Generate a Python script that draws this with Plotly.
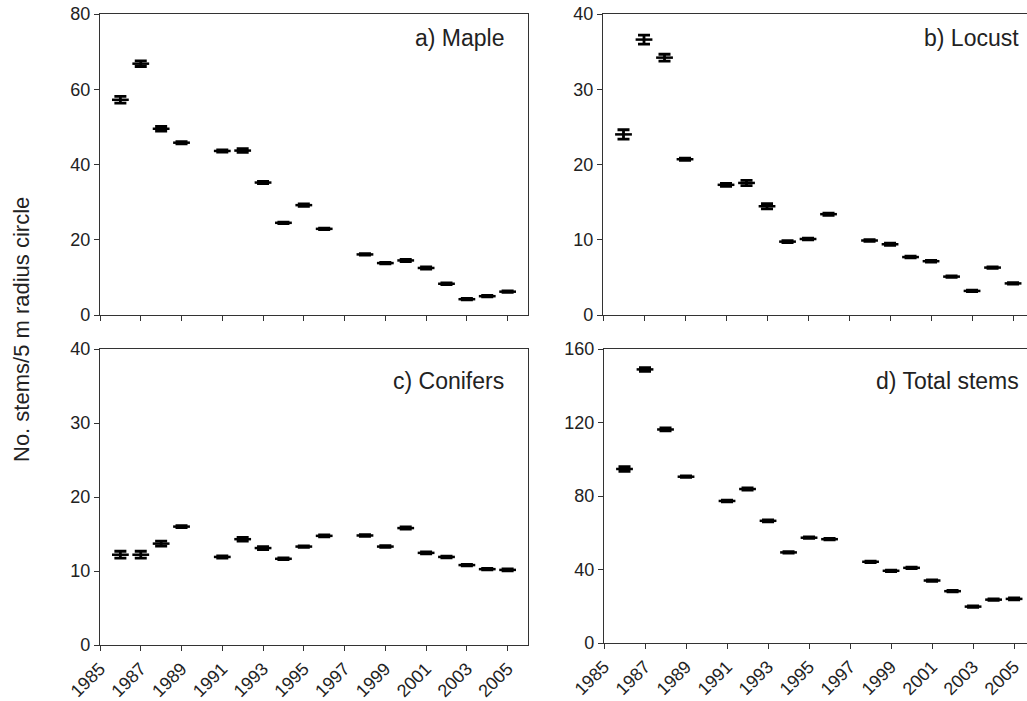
import plotly.graph_objects as go

# Survey years (1990 and 1997 were not sampled)
years = [1986, 1987, 1988, 1989, 1991, 1992, 1993, 1994, 1995, 1996,
         1998, 1999, 2000, 2001, 2002, 2003, 2004, 2005]

# Mean stems per 5 m radius circle and standard errors
maple = [57.2, 66.8, 49.5, 45.8, 43.6, 43.7, 35.2, 24.5, 29.2, 22.9,
         16.1, 13.8, 14.5, 12.5, 8.3, 4.2, 5.0, 6.2]
maple_se = [0.9, 0.75, 0.6, 0.3, 0.3, 0.5, 0.3, 0.2, 0.3, 0.2,
            0.2, 0.2, 0.3, 0.3, 0.2, 0.2, 0.2, 0.2]

locust = [24.0, 36.6, 34.2, 20.7, 17.3, 17.55, 14.45, 9.75, 10.1, 13.4,
          9.9, 9.4, 7.7, 7.15, 5.1, 3.2, 6.3, 4.2]
locust_se = [0.62, 0.6, 0.45, 0.15, 0.2, 0.35, 0.35, 0.12, 0.1, 0.15,
             0.12, 0.15, 0.12, 0.12, 0.1, 0.1, 0.1, 0.1]

conifers = [12.2, 12.2, 13.7, 16.0, 11.9, 14.3, 13.1, 11.65, 13.3, 14.75,
            14.8, 13.3, 15.8, 12.45, 11.9, 10.8, 10.25, 10.15]
conifers_se = [0.47, 0.47, 0.33, 0.12, 0.15, 0.25, 0.2, 0.12, 0.1, 0.12,
               0.12, 0.12, 0.15, 0.12, 0.12, 0.1, 0.1, 0.12]

total = [94.7, 148.9, 116.2, 90.5, 77.3, 83.8, 66.5, 49.3, 57.3, 56.5,
         44.2, 39.3, 40.9, 34.0, 28.2, 19.8, 23.6, 24.0]
total_se = [1.25, 1.0, 0.8, 0.4, 0.5, 0.6, 0.5, 0.4, 0.4, 0.4,
            0.4, 0.4, 0.4, 0.4, 0.4, 0.4, 0.4, 0.5]

panel_labels = ["a) Maple", "b) Locust", "c) Conifers", "d) Total stems"]
y_ranges = [[0, 80], [0, 40], [0, 40], [0, 160]]
y_ticks = [[0, 20, 40, 60, 80], [0, 10, 20, 30, 40],
           [0, 10, 20, 30, 40], [0, 40, 80, 120, 160]]
year_ticks = list(range(1985, 2006, 2))

W, H = 1027, 701
FONT = "Liberation Sans, Arial, Helvetica, sans-serif"

def px(v):
    return v / W

def py(v):
    return 1 - v / H

# pixel boxes of the four panels: (left, right, top, bottom)
boxes = [(100, 528, 14, 315), (603, 1027, 14, 315),
         (100, 528, 349, 645), (604, 1027, 349, 643)]
x_ranges = [[1985, 2006], [1985, 2005.68], [1985, 2006], [1985, 2005.63]]

series = [(maple, maple_se), (locust, locust_se),
          (conifers, conifers_se), (total, total_se)]

fig = go.Figure()
layout = dict(
    width=W, height=H,
    margin=dict(l=0, r=0, t=0, b=0, autoexpand=False),
    paper_bgcolor="white", plot_bgcolor="white",
    showlegend=False,
    font=dict(family=FONT, size=17, color="#222"),
)

annotations = []
for i, ((vals, se), (l, r, t, b)) in enumerate(zip(series, boxes)):
    n = "" if i == 0 else str(i + 1)
    fig.add_trace(go.Scatter(
        x=years, y=vals,
        mode="markers",
        marker=dict(symbol="line-ew", size=12, color="black",
                    line=dict(width=2.5, color="black")),
        error_y=dict(type="data", array=se, visible=True,
                     color="black", thickness=2.8, width=6),
        xaxis="x" + n, yaxis="y" + n,
        hoverinfo="x+y",
    ))
    right_frame = i in (0, 2)
    bottom_row = i >= 2
    layout["xaxis" + n] = dict(
        domain=[px(l), px(r)], range=x_ranges[i],
        anchor="y" + n, automargin=False,
        tickmode="array", tickvals=year_ticks,
        ticktext=[str(y) for y in year_ticks],
        showticklabels=bottom_row,
        tickangle=-45,
        ticks="outside", ticklen=5, tickwidth=1, tickcolor="#333",
        showline=True, linecolor="#333", linewidth=1.2,
        mirror=True,
        showgrid=False, zeroline=False,
        tickfont=dict(family=FONT, size=18, color="#222"),
    )
    layout["yaxis" + n] = dict(
        domain=[py(b), py(t)], range=y_ranges[i],
        anchor="x" + n, automargin=False,
        tickmode="array", tickvals=y_ticks[i],
        ticks="outside", ticklen=5, tickwidth=1, tickcolor="#333",
        showline=True, linecolor="#333", linewidth=1.2,
        mirror=right_frame,
        showgrid=False, zeroline=False,
        tickfont=dict(family=FONT, size=18, color="#222"),
    )
    annotations.append(dict(
        text=panel_labels[i],
        xref="x" + n + " domain", yref="y" + n + " domain",
        x=(506 - l) / (r - l) if right_frame else (1021 - l) / (r - l),
        y=1 - (38 - 14) / (b - t) if i < 2 else 1 - (381 - t) / (b - t),
        xanchor="right", yanchor="middle", showarrow=False,
        font=dict(family=FONT, size=23, color="#222"),
    ))

annotations.append(dict(
    text="No. stems/5 m radius circle",
    xref="paper", yref="paper",
    x=px(21), y=py(330), textangle=-90,
    xanchor="center", yanchor="middle", showarrow=False,
    font=dict(family=FONT, size=22, color="#222"),
))
layout["annotations"] = annotations

fig.update_layout(**layout)
fig.write_html("out.html")
